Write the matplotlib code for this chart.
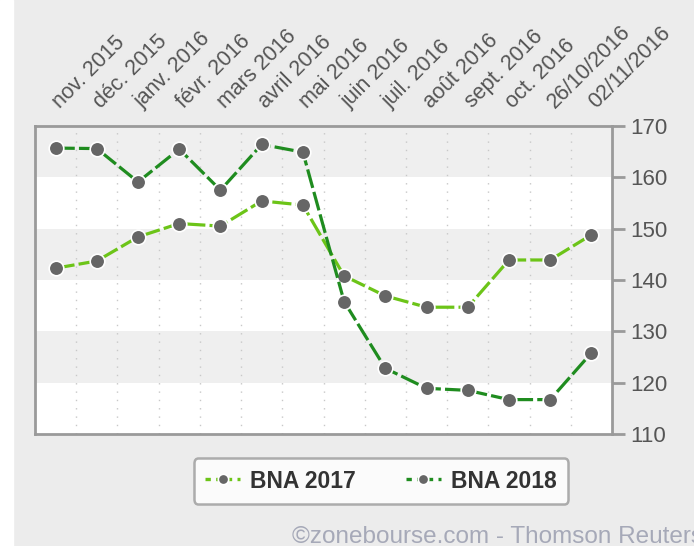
import matplotlib
matplotlib.use("Agg")
import matplotlib.pyplot as plt
from matplotlib.patches import Rectangle
from matplotlib.lines import Line2D
from matplotlib.transforms import ScaledTranslation

categories = ["nov. 2015", "déc. 2015", "janv. 2016", "févr. 2016", "mars 2016", "avril 2016",
              "mai 2016", "juin 2016", "juil. 2016", "août 2016", "sept. 2016", "oct. 2016",
              "26/10/2016", "02/11/2016"]
bna2017 = [142.3, 143.7, 148.4, 151.0, 150.5, 155.4, 154.6, 140.8, 136.9, 134.7, 134.7, 143.9, 143.9, 148.8]
bna2018 = [165.7, 165.6, 159.1, 165.5, 157.5, 166.4, 164.9, 135.8, 122.8, 118.9, 118.5, 116.7, 116.7, 125.8]
yticks = [110, 120, 130, 140, 150, 160, 170]

plt.rcParams['font.family'] = ['Liberation Sans', 'DejaVu Sans']

fig = plt.figure(figsize=(6.94, 5.46), dpi=100, facecolor="#ececec")
fig.patches.append(Rectangle((0, 0), 13/694, 1, transform=fig.transFigure, color="white", zorder=0))

ax = fig.add_axes([35/694, 112/546, 577/694, 308/546])
ax.set_facecolor("white")
n = len(categories)
ax.set_xlim(-0.5, n - 0.5)
ax.set_ylim(110, 170)

# alternating bands
for lo in (120, 140, 160):
    ax.axhspan(lo, lo + 10, color="#efefef", zorder=0, lw=0)
# vertical dotted separators
for i in range(n - 1):
    ax.axvline(i + 0.5, color="#c8c8c8", lw=1, ls=(0, (1, 5)), zorder=1)

x = list(range(n))
c17 = "#6cc418"
c18 = "#1f8c1f"
mk = dict(marker="o", markersize=10.5, markerfacecolor="#666666", markeredgecolor="white", markeredgewidth=1.2)
ax.plot(x, bna2017, color=c17, lw=2.3, ls=(0, (6, 1.3)), zorder=3, **mk)
ax.plot(x, bna2018, color=c18, lw=2.3, ls=(0, (6, 1.3)), zorder=3, **mk)

for s in ax.spines.values():
    s.set_color("#9a9a9a")
    s.set_linewidth(2)

ax.yaxis.tick_right()
ax.set_yticks(yticks)
ax.tick_params(axis="y", direction="out", length=9, width=2, color="#9a9a9a",
               labelsize=16, labelcolor="#555555", pad=4)
ax.xaxis.tick_top()
ax.set_xticks(x)
ax.set_xticklabels(categories, rotation=45, ha="left", va="bottom", rotation_mode="anchor",
                   fontsize=15.5, color="#555555")
ax.tick_params(axis="x", length=0, pad=10)
off = ScaledTranslation(8/100, 0, fig.dpi_scale_trans)
for lbl in ax.get_xticklabels():
    lbl.set_transform(lbl.get_transform() + off)

handles = [Line2D([0], [0], color=c17, lw=2.4, ls=(0, (1.6, 1.6)), **{**mk, "markersize": 7.5}),
           Line2D([0], [0], color=c18, lw=2.4, ls=(0, (1.6, 1.6)), **{**mk, "markersize": 7.5})]
leg = fig.legend(handles, ["BNA 2017", "BNA 2018"], loc="center",
                 bbox_to_anchor=(381/694, 1 - 481/546), ncol=2, frameon=True,
                 prop={"weight": "bold", "size": 16.5}, handlelength=1.5, handletextpad=0.45,
                 columnspacing=2.2, borderpad=0.5, fancybox=True)
leg.get_frame().set_edgecolor("#9a9a9a")
leg.get_frame().set_linewidth(1.8)
for t in leg.get_texts():
    t.set_color("#333333")

fig.text(292/694, 1 - 537/546, "©zonebourse.com - Thomson Reuters", fontsize=17.5,
         color="#a6a9b8", ha="left", va="center")

fig.savefig("out.png", dpi=100, facecolor=fig.get_facecolor())
